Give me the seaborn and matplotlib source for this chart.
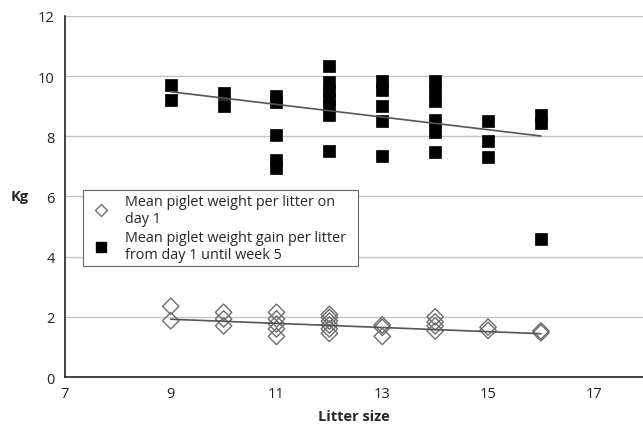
import numpy as np
import pandas as pd
import matplotlib
matplotlib.use('Agg')
import matplotlib.pyplot as plt
from matplotlib.lines import Line2D
import seaborn as sns

# Litter size and mean piglet weight on day 1 (kg)
weight_litter = [9, 9, 10, 10, 10, 11, 11, 11, 11, 11,
                 12, 12, 12, 12, 12, 12, 13, 13, 13,
                 14, 14, 14, 14, 15, 15, 16, 16]
weight_day1 = [2.35, 1.87, 2.15, 1.93, 1.70, 2.15, 1.93, 1.76, 1.60, 1.35,
               2.08, 1.98, 1.86, 1.73, 1.60, 1.45, 1.73, 1.65, 1.35,
               2.00, 1.83, 1.70, 1.53, 1.66, 1.55, 1.53, 1.47]

# Litter size and mean piglet weight gain day 1 -> week 5 (kg)
gain_litter = [9, 9, 10, 10, 11, 11, 11, 11, 11,
               12, 12, 12, 12, 12, 12, 12,
               13, 13, 13, 13, 13,
               14, 14, 14, 14, 14, 14,
               15, 15, 15, 16, 16, 16]
weight_gain = [9.70, 9.22, 9.45, 9.02, 9.35, 9.15, 8.05, 7.20, 6.95,
               10.35, 9.80, 9.50, 9.25, 9.00, 8.70, 7.50,
               9.85, 9.55, 9.00, 8.50, 7.35,
               9.85, 9.52, 9.18, 8.55, 8.15, 7.47,
               8.50, 7.83, 7.31, 8.70, 8.45, 4.58]

# Trend lines
trend_x = [9, 16]
weight_trend = [1.92, 1.44]
gain_trend = [9.48, 8.01]

labels = ['Mean piglet weight per litter on\nday 1',
          'Mean piglet weight gain per litter\nfrom day 1 until week 5']

sns.set_style('white')
plt.rcParams['font.family'] = ['Open Sans', 'DejaVu Sans']

df_w = pd.DataFrame({'Litter size': weight_litter, 'Kg': weight_day1})
df_g = pd.DataFrame({'Litter size': gain_litter, 'Kg': weight_gain})

fig = plt.figure(figsize=(6.43, 4.35), dpi=100)
ax = fig.add_axes([0.101, 0.131, 0.899, 0.830])

for v in range(2, 13, 2):
    ax.axhline(v, color='#c4c4c4', lw=1.0, zorder=0)

sns.scatterplot(data=df_g, x='Litter size', y='Kg', marker='s', s=80,
                color='black', edgecolor='black', linewidth=0.5, ax=ax, zorder=3)
sns.scatterplot(data=df_w, x='Litter size', y='Kg', marker='D', s=70,
                facecolor='none', edgecolor='#6e6e6e', linewidth=1.0, ax=ax, zorder=3)
sns.lineplot(x=trend_x, y=gain_trend, color='#555555', lw=1.2, ax=ax, zorder=4)
sns.lineplot(x=trend_x, y=weight_trend, color='#555555', lw=1.2, ax=ax, zorder=4)

ax.set_xlim(7, 17.93)
ax.set_ylim(0, 12)
ax.set_xticks([7, 9, 11, 13, 15, 17])
ax.set_yticks(range(0, 13, 2))
ax.tick_params(axis='both', labelsize=10.5, colors='#222222', length=4, width=1)
ax.tick_params(axis='x', direction='inout', length=6)
for side in ['top', 'right']:
    ax.spines[side].set_visible(False)
for side in ['left', 'bottom']:
    ax.spines[side].set_color('#222222')
    ax.spines[side].set_linewidth(1.2)

ax.set_xlabel('Litter size', fontsize=10.5, fontweight='bold', labelpad=6)
ax.set_ylabel('Kg', fontsize=10.5, fontweight='bold', rotation=0, va='center')
ax.yaxis.set_label_coords(-0.078, 0.5)

handles = [Line2D([], [], marker='D', ls='none', markersize=6, markerfacecolor='white',
                  markeredgecolor='#6e6e6e'),
           Line2D([], [], marker='s', ls='none', markersize=7, color='black')]
leg = ax.legend(handles, labels, loc='upper left', bbox_to_anchor=(0.031, 0.0, 0.476, 0.518),
                mode='expand', borderaxespad=0,
                fontsize=10.4, frameon=True, fancybox=False, edgecolor='#666666',
                framealpha=1, handlelength=2.0, handletextpad=0.7, labelspacing=0.3,
                borderpad=0.25)
leg.get_frame().set_linewidth(0.8)

fig.savefig('out.png', dpi=100)
